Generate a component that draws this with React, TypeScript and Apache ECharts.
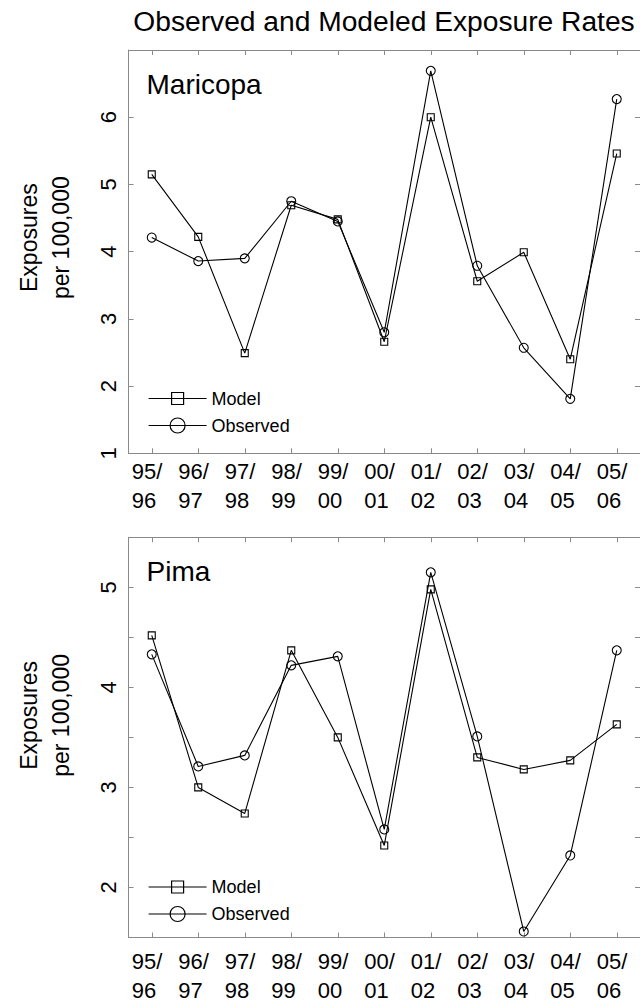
import React, { useEffect, useRef } from "react";
import * as echarts from "echarts";

const seasons = ["95/96", "96/97", "97/98", "98/99", "99/00", "00/01", "01/02", "02/03", "03/04", "04/05", "05/06"];

const maricopaModel = [5.15, 4.22, 2.49, 4.69, 4.48, 2.66, 6.0, 3.56, 3.99, 2.4, 5.46];
const maricopaObserved = [4.21, 3.86, 3.9, 4.75, 4.45, 2.8, 6.69, 3.79, 2.57, 1.81, 6.27];

const pimaModel = [4.52, 3.0, 2.74, 4.37, 3.5, 2.42, 4.98, 3.3, 3.18, 3.27, 3.63];
const pimaObserved = [4.33, 3.21, 3.32, 4.22, 4.31, 2.58, 5.15, 3.51, 1.56, 2.32, 4.37];

const topYTickLabels = [1, 2, 3, 4, 5, 6];
const bottomYTickLabels = [2, 3, 4, 5];

const panelNames = ["Maricopa", "Pima"];
const seriesNames = ["Model", "Observed"];
const titleText = "Observed and Modeled Exposure Rates";
const yAxisTitle = "Exposures\nper 100,000";

const FONT = "'Liberation Sans', Arial, Helvetica, sans-serif";
const AXIS_GRAY = "#8a8a8a";

const SQUARE_ICON = "path://M0,8 H58 M23,2 H35 V14 H23 Z";
const CIRCLE_ICON = "path://M0,8 H58 M36.5,8 A7.5,7.5 0 1 1 21.5,8 A7.5,7.5 0 1 1 36.5,8 Z";

function xAxes(gridIndex: number, labelMargin: number) {
  const common = {
    type: "category",
    gridIndex,
    data: seasons,
    boundaryGap: true,
    axisLine: { show: true, lineStyle: { color: AXIS_GRAY, width: 1 } },
    axisTick: { show: true, inside: true, alignWithLabel: true, length: 5, lineStyle: { color: AXIS_GRAY } },
    splitLine: { show: false },
  };
  return [
    {
      ...common,
      position: "bottom",
      axisLabel: {
        show: true,
        interval: 0,
        margin: labelMargin,
        formatter: (v: string) => {
          const i = v.indexOf("/");
          return `{a|${v.slice(0, i + 1)}}\n{a|${v.slice(i + 1)}}`;
        },
        rich: {
          a: { width: 40, align: "left", fontSize: 22, lineHeight: 29, color: "#000", fontFamily: FONT },
        },
      },
    },
    { ...common, position: "top", axisLabel: { show: false } },
  ];
}

function yAxes(gridIndex: number, min: number, max: number, interval: number, labels: number[], nameShift: number) {
  const line = { show: true, lineStyle: { color: AXIS_GRAY, width: 1 } };
  const tick = { show: true, inside: true, length: 5, lineStyle: { color: AXIS_GRAY } };
  return [
    {
      type: "value",
      gridIndex,
      position: "left",
      min,
      max,
      interval,
      axisLine: line,
      axisTick: tick,
      splitLine: { show: false },
      name: yAxisTitle,
      nameLocation: "middle",
      nameRotate: 90,
      nameGap: 52,
      nameTextStyle: {
        fontSize: 23,
        lineHeight: 32,
        color: "#000",
        fontFamily: FONT,
        padding: [0, 0, 0, nameShift * 2],
      },
      axisLabel: {
        show: true,
        rotate: 90,
        margin: 9,
        fontSize: 22,
        color: "#000",
        fontFamily: FONT,
        formatter: (v: number) => (labels.some((l) => Math.abs(l - v) < 1e-6) ? String(v) : ""),
      },
    },
    {
      type: "value",
      gridIndex,
      position: "right",
      min,
      max,
      interval,
      axisLine: line,
      axisTick: tick,
      splitLine: { show: false },
      axisLabel: { show: false },
    },
  ];
}

function lineSeries(name: string, data: number[], idx: number, symbol: string, size: number) {
  return {
    type: "line",
    name,
    data,
    xAxisIndex: idx * 2,
    yAxisIndex: idx * 2,
    symbol,
    symbolSize: size,
    showAllSymbol: true,
    lineStyle: { color: "#000", width: 1.1 },
    itemStyle: { color: "transparent", borderColor: "#000", borderWidth: 1.1 },
    emphasis: { disabled: true },
  };
}

function legend(top: number) {
  return {
    orient: "vertical",
    left: 148,
    top,
    padding: 0,
    itemWidth: 58,
    itemHeight: 15,
    itemGap: 9,
    selectedMode: false,
    textStyle: { fontSize: 18, color: "#000", fontFamily: FONT },
    data: [
      { name: seriesNames[0], icon: SQUARE_ICON, itemStyle: { color: "transparent", borderColor: "#000", borderWidth: 1.2 } },
      { name: seriesNames[1], icon: CIRCLE_ICON, itemStyle: { color: "transparent", borderColor: "#000", borderWidth: 1.2 } },
    ],
  };
}

export default function App() {
  const ref = useRef<HTMLDivElement>(null);

  useEffect(() => {
    if (!ref.current) return;
    const chart = echarts.init(ref.current, null, { renderer: "svg" });
    const gridLeft = 128.5;
    const gridWidth = 513;
    const option = {
      animation: false,
      backgroundColor: "#fff",
      textStyle: { fontFamily: FONT },
      title: {
        text: titleText,
        left: 384,
        textAlign: "center",
        top: 7,
        padding: 0,
        textStyle: { fontSize: 28.2, fontWeight: "normal", color: "#000", fontFamily: FONT },
      },
      grid: [
        { left: gridLeft, top: 50, width: gridWidth, height: 403.3 },
        { left: gridLeft, top: 537.3, width: gridWidth, height: 402 },
      ],
      xAxis: [...xAxes(0, 4), ...xAxes(1, 9)],
      yAxis: [...yAxes(0, 1, 7, 1, topYTickLabels, 14), ...yAxes(1, 1.5, 5.5, 0.5, bottomYTickLabels, 22)],
      legend: [legend(389.5), legend(878)],
      graphic: [
        {
          type: "text",
          left: 146.5,
          top: 70,
          style: { text: panelNames[0], fontSize: 28, fill: "#000", fontFamily: FONT },
        },
        {
          type: "text",
          left: 146.5,
          top: 557,
          style: { text: panelNames[1], fontSize: 28, fill: "#000", fontFamily: FONT },
        },
      ],
      series: [
        lineSeries(seriesNames[0], maricopaModel, 0, "rect", 7),
        lineSeries(seriesNames[1], maricopaObserved, 0, "circle", 9),
        lineSeries(seriesNames[0], pimaModel, 1, "rect", 7),
        lineSeries(seriesNames[1], pimaObserved, 1, "circle", 9),
      ],
    };
    chart.setOption(option as any);
    return () => chart.dispose();
  }, []);

  return (
    <div
      ref={ref}
      style={{ position: "absolute", left: 0, top: 0, width: 640, height: 1001 }}
    />
  );
}
